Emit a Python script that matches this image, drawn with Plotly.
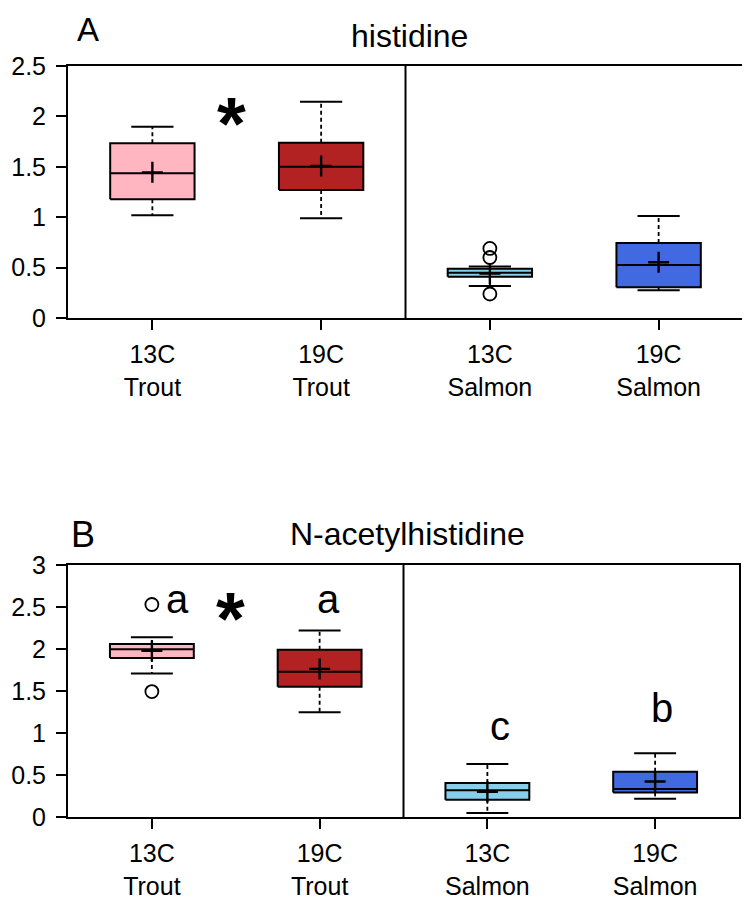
import plotly.graph_objects as go

# groups along the x axis
groups = ["13C<br>Trout", "19C<br>Trout", "13C<br>Salmon", "19C<br>Salmon"]
colors = ["#FFB6C1", "#B22222", "#87CEEB", "#4169E1"]

# panel A: histidine (box stats)
his_low = [1.02, 0.99, 0.317, 0.275]
his_q1 = [1.177, 1.27, 0.41, 0.305]
his_median = [1.435, 1.50, 0.45, 0.526]
his_q3 = [1.733, 1.739, 0.489, 0.744]
his_high = [1.898, 2.146, 0.51, 1.012]
his_mean = [1.445, 1.508, 0.44, 0.553]
his_outliers = [[], [], [0.69, 0.60, 0.238], []]

# panel B: N-acetylhistidine
nah_low = [1.707, 1.248, 0.048, 0.218]
nah_q1 = [1.894, 1.55, 0.206, 0.293]
nah_median = [1.998, 1.73, 0.317, 0.333]
nah_q3 = [2.06, 1.99, 0.404, 0.539]
nah_high = [2.14, 2.22, 0.63, 0.76]
nah_mean = [1.98, 1.763, 0.30, 0.423]
nah_outliers = [[2.53, 1.493], [], [], []]

# significance letters (panel B) and star
nah_letters = ["a", "a", "c", "b"]
nah_letter_x = [0.15, 1.05, 2.075, 3.04]
nah_letter_y = [2.6, 2.6, 1.08, 1.30]
star_x = 0.47
his_star_y = 2.07
nah_star_y = 2.53

FONT = "Liberation Sans, Arial, sans-serif"
HW = 0.25   # half box width
CW = 0.125  # half cap width

# page body has an 8px margin, so lay things out in a slightly smaller figure
OFF = 8
W, H = 750 - OFF, 902 - OFF


def px_x(v):
    return (v - OFF) / W


def px_y(v):
    return 1 - (v - OFF) / H


fig = go.Figure()


def add_panel(xa, ya, low, q1, med, q3, high, mean, outl):
    for i in range(len(groups)):
        c = i
        # box
        fig.add_trace(go.Scatter(
            x=[c - HW, c + HW, c + HW, c - HW, c - HW],
            y=[q1[i], q1[i], q3[i], q3[i], q1[i]],
            fill="toself", fillcolor=colors[i], mode="lines",
            line=dict(color="black", width=2), xaxis=xa, yaxis=ya,
            showlegend=False, hoverinfo="skip"))
        # median
        fig.add_trace(go.Scatter(
            x=[c - HW, c + HW], y=[med[i], med[i]], mode="lines",
            line=dict(color="black", width=2), xaxis=xa, yaxis=ya,
            showlegend=False, hoverinfo="skip"))
        # dashed whiskers
        for a, b in [(q3[i], high[i]), (q1[i], low[i])]:
            fig.add_trace(go.Scatter(
                x=[c, c], y=[a, b], mode="lines",
                line=dict(color="black", width=1.8, dash="4px,3px"),
                xaxis=xa, yaxis=ya, showlegend=False, hoverinfo="skip"))
        # caps
        for v in (high[i], low[i]):
            fig.add_trace(go.Scatter(
                x=[c - CW, c + CW], y=[v, v], mode="lines",
                line=dict(color="black", width=2), xaxis=xa, yaxis=ya,
                showlegend=False, hoverinfo="skip"))
        # mean
        fig.add_trace(go.Scatter(
            x=[c], y=[mean[i]], mode="markers",
            marker=dict(symbol="cross-thin", size=15,
                        line=dict(color="black", width=2.4)),
            xaxis=xa, yaxis=ya, showlegend=False, hoverinfo="skip"))
        # outliers
        if outl[i]:
            fig.add_trace(go.Scatter(
                x=[c] * len(outl[i]), y=outl[i], mode="markers",
                marker=dict(symbol="circle-open", size=13, color="black",
                            line=dict(color="black", width=1.8)),
                xaxis=xa, yaxis=ya, showlegend=False, hoverinfo="skip"))


add_panel("x", "y", his_low, his_q1, his_median, his_q3, his_high, his_mean, his_outliers)
add_panel("x2", "y2", nah_low, nah_q1, nah_median, nah_q3, nah_high, nah_mean, nah_outliers)

xcommon = dict(range=[-0.5, 3.5], tickmode="array", tickvals=list(range(len(groups))),
               ticktext=groups, showline=True, mirror=True, linecolor="black",
               linewidth=2, ticks="outside", ticklen=10, tickwidth=2,
               tickcolor="black", showgrid=False, zeroline=False,
               automargin=False, ticklabelstandoff=3,
               tickfont=dict(family=FONT, size=25, color="black"))
ycommon = dict(showline=True, mirror=True, linecolor="black", linewidth=2,
               ticks="outside", ticklen=10, tickwidth=2, tickcolor="black",
               showgrid=False, zeroline=False, dtick=0.5, automargin=False,
               ticklabelstandoff=5,
               tickfont=dict(family=FONT, size=25, color="black"))

fig.update_layout(
    template="none",
    width=W, height=H,
    margin=dict(l=0, r=0, t=0, b=0, autoexpand=False),
    paper_bgcolor="white", plot_bgcolor="white",
    xaxis=dict(xcommon, domain=[px_x(68), px_x(743)], anchor="y"),
    yaxis=dict(ycommon, domain=[px_y(318), px_y(66)], range=[0, 2.5], anchor="x"),
    xaxis2=dict(xcommon, domain=[px_x(68), px_x(739)], anchor="y2"),
    yaxis2=dict(ycommon, domain=[px_y(817), px_y(565)], range=[0, 3], anchor="x2"),
)

# divider between trout and salmon
for xa, ya, top in [("x", "y", 2.5), ("x2", "y2", 3)]:
    fig.add_shape(type="line", xref=xa, yref=ya, x0=1.5, x1=1.5, y0=0, y1=top,
                  line=dict(color="black", width=2))

ann = []
# panel letters and titles
for text, x, y, size in [("A", 88, 29, 33), ("histidine", 409, 36, 32),
                         ("B", 83, 534, 36), ("N-acetylhistidine", 408, 534, 32)]:
    ann.append(dict(text=text, x=px_x(x), y=px_y(y), xref="paper", yref="paper",
                    xanchor="center", yanchor="middle", showarrow=False,
                    font=dict(family=FONT, size=size, color="black")))
# stars
ann.append(dict(text="<b>*</b>", x=star_x, y=his_star_y, xref="x", yref="y", yshift=-14,
                xanchor="center", yanchor="middle", showarrow=False,
                font=dict(family=FONT, size=74, color="black")))
ann.append(dict(text="<b>*</b>", x=star_x, y=nah_star_y, xref="x2", yref="y2", yshift=-14,
                xanchor="center", yanchor="middle", showarrow=False,
                font=dict(family=FONT, size=74, color="black")))
# letters
for t, lx, ly in zip(nah_letters, nah_letter_x, nah_letter_y):
    ann.append(dict(text=t, x=lx, y=ly, xref="x2", yref="y2", showarrow=False,
                    xanchor="center", yanchor="middle",
                    font=dict(family=FONT, size=40, color="black")))
fig.update_layout(annotations=ann)

fig.write_html("out.html")
